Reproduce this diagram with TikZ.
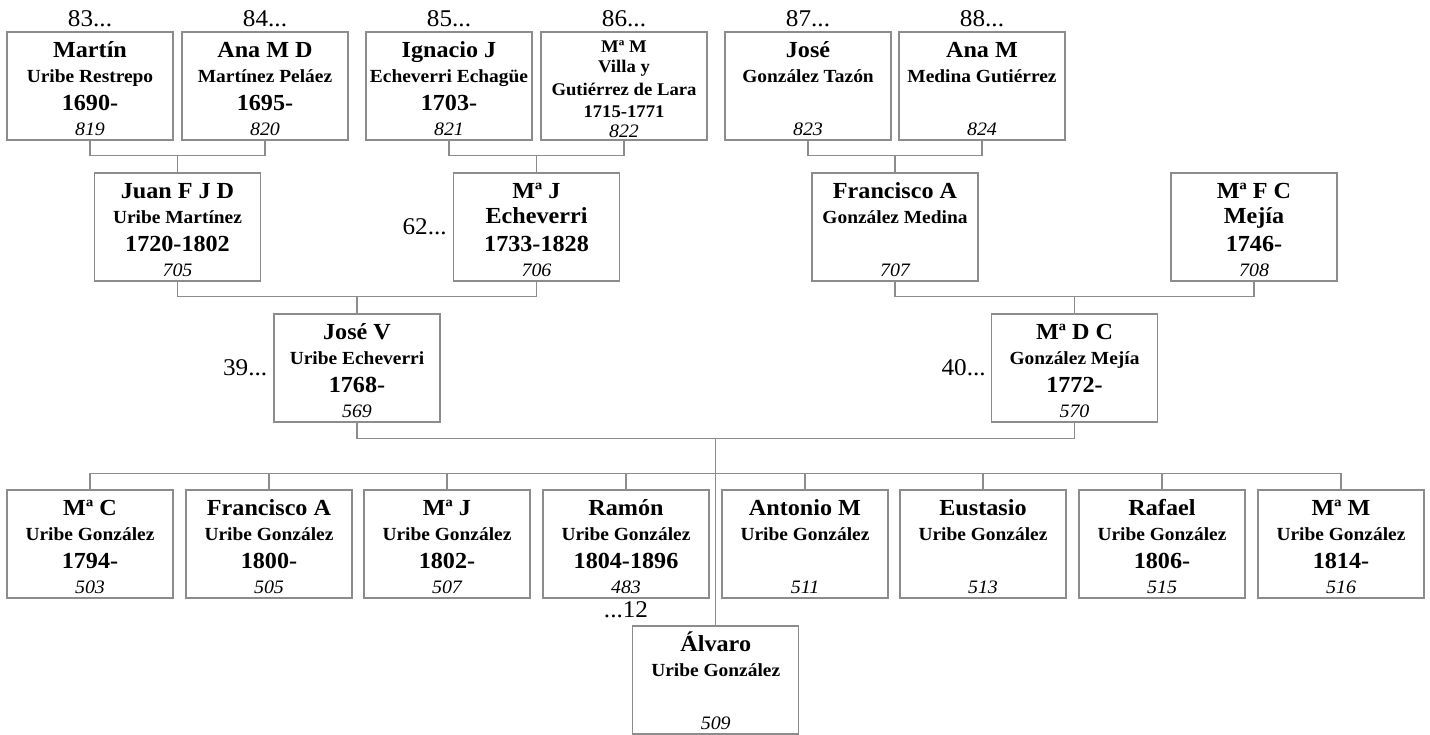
\documentclass[tikz,border=0pt]{standalone}
\usepackage{fontspec}
\setmainfont{Liberation Serif}[FakeStretch=1.05]
\usetikzlibrary{positioning,calc}
\definecolor{linegrey}{RGB}{140,140,140}
\newcommand{\nmfont}{\fontsize{23}{23}\selectfont\bfseries}
\newcommand{\snfont}{\fontsize{18.5}{18.5}\selectfont\bfseries}
\newcommand{\yrfont}{\fontsize{23}{23}\selectfont\bfseries}
\newcommand{\smfont}{\fontsize{17.8}{17.8}\selectfont\bfseries}
\tikzset{
  pbox/.style={draw=linegrey,line width=1.3pt,fill=white,minimum width=166pt,
               minimum height=108pt,inner sep=0pt},
  txt/.style={anchor=base,inner sep=0pt},
  nm/.style={txt,font=\nmfont},
  sn/.style={txt,font=\snfont},
  yr/.style={txt,font=\yrfont},
  num/.style={txt,font=\fontsize{19}{19}\selectfont\itshape},
  gen/.style={inner sep=1pt,font=\fontsize{24}{24}\selectfont},
  link/.style={draw=linegrey,line width=1.3pt},
}
\newcommand{\persona}[7]{%
  \node[pbox] (#1) at (#2,#3+54) {};
  \node[nm] (#1n) at (#2,#3+25) {#4};
  \node[sn] (#1s) at (#2,#3+50) {#5};
  \node[yr] (#1y) at (#2,#3+78) {#6};
  \node[num] (#1k) at (#2,#3+103) {#7};}

\begin{document}
\begin{tikzpicture}[x=1pt,y=-1pt]
  \useasboundingbox (0,0) rectangle (1430,734);
  \persona{gg1}{90}{32}{Martín}{Uribe Restrepo}{1690-}{819}
  \persona{gg2}{265}{32}{Ana M D}{Martínez Peláez}{1695-}{820}
  \persona{gg3}{449}{32}{Ignacio J}{Echeverri Echagüe}{1703-}{821}
  \node[pbox] (gg4) at (624,86) {};
  \node[txt,font=\smfont] (gg4n) at (624,52) {Mª M};
  \node[txt,font=\smfont] (gg4v) at (624,72) {Villa y};
  \node[txt,font=\smfont] (gg4s) at (624,95) {Gutiérrez de Lara};
  \node[txt,font=\smfont] (gg4y) at (624,117) {1715-1771};
  \node[num] (gg4k) at (624,137) {822};
  \persona{gg5}{808}{32}{José}{González Tazón}{}{823}
  \persona{gg6}{982}{32}{Ana M}{Medina Gutiérrez}{}{824}
  \foreach \i/\g in {1/83,2/84,3/85,4/86,5/87,6/88}{
    \node[gen,above=3pt of gg\i] (l\g) {\g...};}

  \persona{gp1}{177.5}{173}{Juan F J D}{Uribe Martínez}{1720-1802}{705}
  \persona{gp2}{536.5}{173}{Mª J}{\nmfont Echeverri}{1733-1828}{706}
  \persona{gp3}{895}{173}{Francisco A}{González Medina}{}{707}
  \persona{gp4}{1254}{173}{Mª F C}{\nmfont Mejía}{1746-}{708}
  \node[gen,left=5pt of gp2] (l62) {62...};

  \persona{par1}{357}{314}{José V}{Uribe Echeverri}{1768-}{569}
  \persona{par2}{1074.5}{314}{Mª D C}{González Mejía}{1772-}{570}
  \node[gen,left=5pt of par1] (l39) {39...};
  \node[gen,left=4pt of par2] (l40) {40...};

  \foreach \i/\x/\who/\yr/\k in {1/90/Mª C/1794-/503,2/269/Francisco A/1800-/505,
      3/447/Mª J/1802-/507,4/626/Ramón/1804-1896/483,5/805/Antonio M//511,
      6/983/Eustasio//513,7/1162/Rafael/1806-/515,8/1341/Mª M/1814-/516}{
    \persona{ch\i}{\x}{490}{\who}{Uribe González}{\yr}{\k}}
  \node[gen,below=2pt of ch4] (l12) {...12};
  \persona{alvaro}{715.75}{626}{Álvaro}{Uribe González}{}{509}

  \foreach \a/\b/\c in {gg1/gg2/gp1,gg3/gg4/gp2,gg5/gg6/gp3,gp1/gp2/par1,gp3/gp4/par2}{
    \draw[link] (\a.south) -- ++(0,15) -| (\b.south);
    \draw[link] ($(\a.south)!.5!(\b.south)+(0,15)$) -- (\c.north);}
  \draw[link] (par1.south) -- ++(0,16) -| (par2.south);
  \draw[link] ($(par1.south)!.5!(par2.south)+(0,16)$) -- (alvaro.north);
  \draw[link] (ch1.north) -- ++(0,-16) -| (ch8.north);
  \foreach \i in {2,...,7}{\draw[link] (ch\i.north) -- ++(0,-16);}
\end{tikzpicture}
\end{document}
